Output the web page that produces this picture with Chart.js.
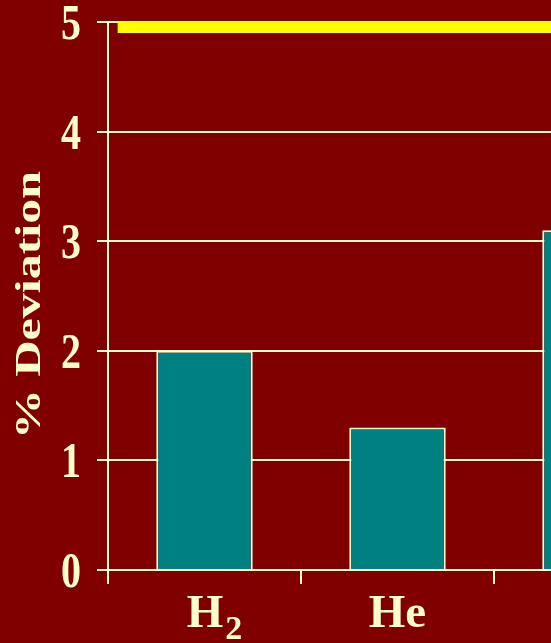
<!DOCTYPE html>
<html>
<head>
<meta charset="utf-8">
<script src="https://cdn.jsdelivr.net/npm/chart.js@4"></script>
<style>
  html, body { margin: 0; padding: 0; background: #800000; overflow: hidden; }
  #wrap { width: 551px; height: 643px; overflow: hidden; }
  canvas { display: block; }
</style>
</head>
<body>
<div id="wrap"><canvas id="myChart" width="687" height="643"></canvas></div>
<script>
// gases on the x axis (subscript digits are drawn lowered)
const gases = ['H₂', 'He', 'N₂'];
// % deviation for each gas
const deviation = [2.0, 1.3, 3.1];
// y axis ticks
const yTicks = [0, 1, 2, 3, 4, 5];
// yellow limit line: [start, end] along the gas axis, and its level
const limitSpan = [0.05, 3];
const limitLevel = 4.95;

const cream = '#FFFFCC';
const serif = '"Liberation Serif", "Times New Roman", serif';

// draws tick labels and axis title in a tall bold serif
const serifText = {
    id: 'serifText',
    afterDraw(chart) {
        const ctx = chart.ctx;
        const area = chart.chartArea;
        const xs = chart.scales.x, ys = chart.scales.y;
        ctx.save();
        ctx.fillStyle = cream;

        // y tick labels
        ctx.font = 'bold 50px ' + serif;
        ctx.textAlign = 'right';
        ctx.textBaseline = 'alphabetic';
        yTicks.forEach(v => {
            ctx.save();
            ctx.translate(area.left - 27, ys.getPixelForValue(v) + 17);
            ctx.scale(0.8, 1);
            ctx.fillText(String(v), 0, 0);
            ctx.restore();
        });

        // category labels with subscripts
        gases.forEach((label, i) => {
            const main = label.replace(/[\u2080-\u2089]/g, '');
            const sub = label.replace(/[^\u2080-\u2089]/g, '')
                .split('').map(c => String(c.charCodeAt(0) - 0x2080)).join('');
            ctx.font = 'bold 47px ' + serif;
            const wMain = ctx.measureText(main).width;
            ctx.font = 'bold 34px ' + serif;
            const wSub = sub ? ctx.measureText(sub).width + 2 : 0;
            const cx = xs.getPixelForValue(i);
            const left = cx - (wMain + wSub) / 2 + (sub ? 10 : 0);
            const base = area.bottom + 57;
            ctx.textAlign = 'left';
            ctx.font = 'bold 47px ' + serif;
            ctx.fillText(main, left, base);
            if (sub) {
                ctx.font = 'bold 34px ' + serif;
                ctx.fillText(sub, left + wMain + 2, base + 12);
            }
        });

        // y axis title
        ctx.save();
        ctx.translate(31, 305);
        ctx.rotate(-Math.PI / 2);
        ctx.scale(1, 0.72);
        ctx.font = 'bold 50px ' + serif;
        ctx.textAlign = 'center';
        ctx.textBaseline = 'middle';
        ctx.fillText('% Deviation', 0, 0);
        ctx.restore();

        ctx.restore();
    }
};

const ctx = document.getElementById('myChart').getContext('2d');
const myChart = new Chart(ctx, {
    type: 'bar',
    data: {
        labels: gases,
        datasets: [{
            type: 'bar',
            data: deviation,
            backgroundColor: '#008080',
            borderColor: cream,
            borderWidth: 2,
            grouped: false,
            barPercentage: 0.5,
            categoryPercentage: 1.0
        }, {
            type: 'line',
            xAxisID: 'xLine',
            data: limitSpan.map(v => ({ x: v, y: limitLevel })),
            borderColor: '#FFFF00',
            borderWidth: 11,
            borderCapStyle: 'butt',
            pointRadius: 0,
            clip: false
        }]
    },
    options: {
        responsive: false,
        animation: false,
        layout: { padding: { top: 22, left: 0, right: 0, bottom: 0 } },
        plugins: {
            legend: { display: false },
            tooltip: { enabled: false }
        },
        scales: {
            x: {
                type: 'category',
                offset: true,
                ticks: { display: false },
                grid: {
                    offset: true,
                    drawOnChartArea: false,
                    color: cream,
                    lineWidth: 2,
                    tickLength: 14
                },
                border: { color: cream, width: 2 },
                afterFit: s => { s.height = 73; }
            },
            xLine: {
                type: 'linear',
                display: false,
                offset: false,
                min: 0,
                max: gases.length
            },
            y: {
                min: 0,
                max: 5,
                ticks: { display: false, stepSize: 1 },
                grid: { color: cream, lineWidth: 2, tickLength: 11 },
                border: { color: cream, width: 2 },
                afterFit: s => { s.width = 108; }
            }
        }
    },
    plugins: [serifText]
});
</script>
</body>
</html>
